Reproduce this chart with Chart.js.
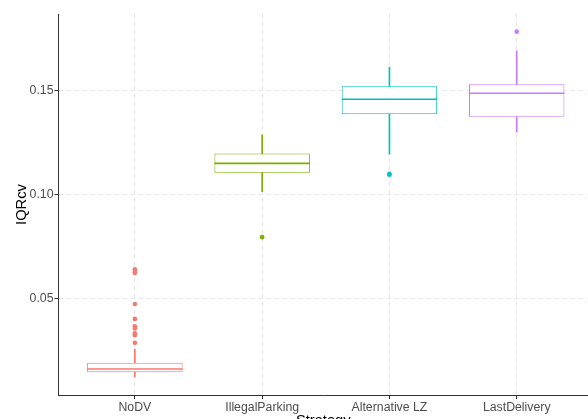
<!DOCTYPE html>
<html>
<head>
<meta charset="utf-8">
<script src="https://cdn.jsdelivr.net/npm/chart.js@4"></script>
<style>
  html, body { margin: 0; padding: 0; overflow: hidden; background: #fff; }
  canvas { display: block; }
</style>
</head>
<body>
<canvas id="chart" width="588" height="440"></canvas>
<script>
// box plot values
const categories = ['NoDV', 'IllegalParking', 'Alternative LZ', 'LastDelivery'];
const colors = ['#F8766D', '#7CAE00', '#00BFC4', '#C77CFF'];
const whiskerLow = [0.0121, 0.1014, 0.1195, 0.1301];
const q1 = [0.0144, 0.1105, 0.1388, 0.1375];
const medians = [0.0159, 0.1151, 0.1460, 0.1489];
const q3 = [0.0190, 0.1198, 0.1523, 0.1532];
const whiskerHigh = [0.0256, 0.1288, 0.1614, 0.1694];
const outliers = [
    [0.0640, 0.0628, 0.0622, 0.0473, 0.0401, 0.0365, 0.0355, 0.0332, 0.0322, 0.0286],
    [0.0795],
    [0.1096, 0.1100],
    [0.1786]
];
const yTicks = [0.05, 0.10, 0.15];

const pos = categories.map((c, i) => i + 1);
const outlierPoints = [];
const outlierColors = [];
outliers.forEach((vals, i) => {
    vals.forEach(v => {
        outlierPoints.push({ x: pos[i], y: v });
        outlierColors.push(colors[i]);
    });
});

// median line drawn across each box
const medianPlugin = {
    id: 'medianLines',
    afterDatasetsDraw(chart) {
        const meta = chart.getDatasetMeta(0);
        const yScale = chart.scales.y;
        const ctx = chart.ctx;
        ctx.save();
        meta.data.forEach((bar, i) => {
            const y = yScale.getPixelForValue(medians[i]);
            ctx.strokeStyle = colors[i];
            ctx.lineWidth = 1.6;
            ctx.beginPath();
            ctx.moveTo(bar.x - bar.width / 2, y);
            ctx.lineTo(bar.x + bar.width / 2, y);
            ctx.stroke();
        });
        ctx.restore();
    }
};

const gridStyle = {
    color: '#E6E6E6',
    lineWidth: 1,
    offset: false,
    tickColor: '#333333',
    tickBorderDash: [],
    tickWidth: 1,
    tickLength: 4
};
const borderStyle = { color: '#333333', width: 1, dash: [4, 4] };
const tickFont = { family: 'Liberation Sans, Arial, sans-serif', size: 12.3 };
const titleFont = { family: 'Liberation Sans, Arial, sans-serif', size: 14.7 };

new Chart(document.getElementById('chart'), {
    type: 'bar',
    data: {
        datasets: [
            {
                label: 'box',
                data: pos.map((x, i) => ({ x: x, y: [q1[i], q3[i]] })),
                backgroundColor: '#ffffff',
                borderColor: colors,
                borderWidth: 1,
                borderSkipped: false,
                grouped: false,
                categoryPercentage: 1,
                barPercentage: 0.75
            },
            {
                label: 'lower whisker',
                data: pos.map((x, i) => ({ x: x, y: [whiskerLow[i], q1[i]] })),
                backgroundColor: colors,
                borderWidth: 0,
                grouped: false,
                barThickness: 1
            },
            {
                label: 'upper whisker',
                data: pos.map((x, i) => ({ x: x, y: [q3[i], whiskerHigh[i]] })),
                backgroundColor: colors,
                borderWidth: 0,
                grouped: false,
                barThickness: 1
            },
            {
                type: 'scatter',
                label: 'outliers',
                data: outlierPoints,
                pointBackgroundColor: outlierColors,
                pointBorderWidth: 0,
                pointRadius: 2.3
            }
        ]
    },
    options: {
        responsive: false,
        animation: false,
        devicePixelRatio: 1,
        layout: { autoPadding: false, padding: { top: 14, left: 0, right: 0, bottom: 0 } },
        plugins: {
            legend: { display: false },
            tooltip: { enabled: false }
        },
        scales: {
            x: {
                type: 'linear',
                offset: false,
                min: 0.4,
                max: 4.56,
                afterBuildTicks: scale => { scale.ticks = pos.map(v => ({ value: v })); },
                afterFit: scale => { scale.height = 45; },
                grid: gridStyle,
                border: borderStyle,
                ticks: {
                    padding: 1,
                    color: '#4D4D4D',
                    font: tickFont,
                    maxRotation: 0,
                    autoSkip: false,
                    callback: v => categories[v - 1]
                },
                title: {
                    display: true,
                    text: 'Strategy',
                    color: '#000000',
                    padding: { top: 0, bottom: 10 },
                    font: titleFont
                }
            },
            y: {
                min: 0.0034,
                max: 0.1871,
                afterBuildTicks: scale => { scale.ticks = yTicks.map(v => ({ value: v })); },
                afterFit: scale => { scale.width = 58.5; },
                grid: gridStyle,
                border: borderStyle,
                ticks: {
                    padding: 1,
                    color: '#4D4D4D',
                    font: tickFont,
                    callback: v => v.toFixed(2)
                },
                title: {
                    display: true,
                    text: 'IQRcv',
                    color: '#000000',
                    padding: { top: 13, bottom: 0 },
                    font: titleFont
                }
            }
        }
    },
    plugins: [medianPlugin]
});
</script>
</body>
</html>
